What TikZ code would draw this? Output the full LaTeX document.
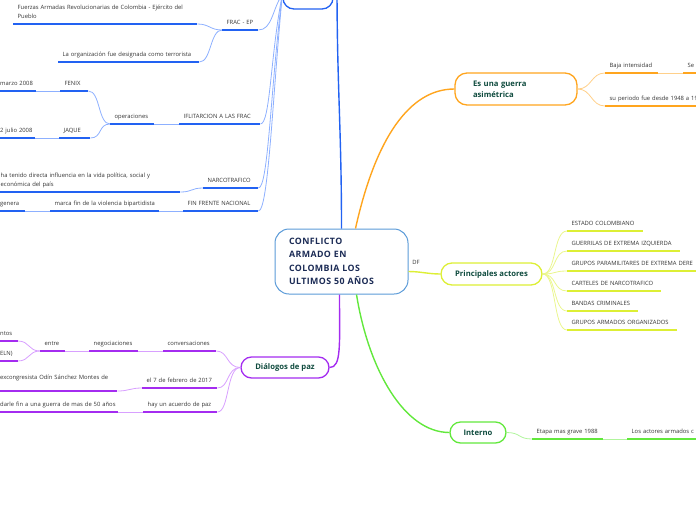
\documentclass[tikz,border=0pt]{standalone}
\usepackage{fontspec}
\setmainfont{Open Sans}
\definecolor{bU}{HTML}{2262F2}
\definecolor{bC}{HTML}{8DB0FF}
\definecolor{pU}{HTML}{A42CF0}
\definecolor{pC}{HTML}{D8A0FF}
\definecolor{lU}{HTML}{DDEF35}
\definecolor{lC}{HTML}{EAF68E}
\definecolor{oU}{HTML}{FFA51E}
\definecolor{oC}{HTML}{FFD08A}
\definecolor{gU}{HTML}{62E83C}
\definecolor{gC}{HTML}{B0F59C}
\definecolor{ttl}{HTML}{0F4B3E}
\definecolor{ctr}{HTML}{1B2B55}
\definecolor{ctrB}{HTML}{5B9BD8}
\definecolor{txt}{HTML}{333333}
\newcommand\dstrut{\rule[-2.3pt]{0pt}{5pt}}
\tikzset{
  topic/.style={anchor=south west, align=left, inner xsep=4.5pt, inner ysep=3.3pt,
    text=txt, font=\fontsize{5.85}{9}\selectfont, execute at end node=\dstrut},
  ulB/.style={draw=bU, line width=1.9pt},
  ulP/.style={draw=pU, line width=1.9pt},
  ulL/.style={draw=lU, line width=1.9pt},
  ulO/.style={draw=oU, line width=1.9pt},
  ulG/.style={draw=gU, line width=1.9pt},
  cB/.style={draw=bC, line width=0.8pt},
  cP/.style={draw=pC, line width=0.8pt},
  cL/.style={draw=lC, line width=0.8pt},
  cO/.style={draw=oC, line width=0.8pt},
  cG/.style={draw=gC, line width=0.8pt},
  branch/.style={draw=#1, line width=1.3pt, fill=white, text=ttl,
    font=\fontsize{7.7}{11}\selectfont\bfseries, inner sep=0pt},
  mainc/.style={draw=#1, line width=1.4pt},
}
\begin{document}
\begin{tikzpicture}[x=1pt,y=-1pt]
\useasboundingbox (0,0) rectangle (696,520);
\clip (0,0) rectangle (696,520);

% central node
\node[draw=ctrB, line width=1pt, fill=white, rounded corners=14pt,
  minimum width=133pt, minimum height=65pt, text width=105pt, inner xsep=14pt,
  align=left, text=ctr, font=\fontsize{8.8}{13.4}\selectfont\bfseries\addfontfeature{LetterSpace=5}]
  (center) at (341.5,261.5) {CONFLICTO\\ARMADO EN\\COLOMBIA LOS\\ULTIMOS 50 AÑOS};

% branch nodes
\node[branch=bU, rounded corners=11pt, minimum width=50pt, minimum height=29pt] (hech) at (308,-5.5) {Hechos};
\node[branch=oU, rounded corners=12pt, minimum width=122pt, minimum height=32pt,
  text width=86pt, inner xsep=18pt, align=left] (asim) at (516,89) {Es una guerra\\asimétrica};
\node[branch=lU, rounded corners=11pt, minimum width=101pt, minimum height=22pt] (princ) at (491.5,274) {Principales actores};
\node[branch=gU, rounded corners=10.5pt, minimum width=56pt, minimum height=21pt] (interno) at (478,432.5) {Interno};
\node[branch=pU, rounded corners=10.5pt, minimum width=88pt, minimum height=21pt] (dial) at (285,367.5) {Diálogos de paz};
\coordinate (htop) at (337,-14);

% blue topics
\node[topic, text width=27pt] (frac) at (222,30) {\mbox{FRAC - EP}};
\node[topic, text width=175pt] (fuerzas) at (13,24) {\mbox{Fuerzas Armadas Revolucionarias de Colombia - Ejército del}\\Pueblo};
\node[topic, text width=132pt] (org) at (58,62) {\mbox{La organización fue designada como terrorista}};
\node[topic, text width=72pt] (ifl) at (179,124) {\mbox{IFLITARCION A LAS FRAC}};
\node[topic, text width=35pt] (oper) at (110,124) {\mbox{operaciones}};
\node[topic, text width=19pt] (fenix) at (60,91) {\mbox{FENIX}};
\node[topic, text width=31.5pt] (marzo) at (-4.5,91) {\mbox{marzo 2008}};
\node[topic, text width=22pt] (jaque) at (59,138) {\mbox{JAQUE}};
\node[topic, text width=30pt] (julio) at (-4.5,138) {\mbox{2 julio 2008}};
\node[topic, text width=46pt] (narc) at (203,188) {\mbox{NARCOTRAFICO}};
\node[topic, text width=175pt] (tenido) at (-4,192) {\mbox{ha tenido directa influencia en la vida política, social y}\\económica del país};
\node[topic, text width=66pt] (fin) at (183,211) {\mbox{FIN FRENTE NACIONAL}};
\node[topic, text width=100pt] (marca) at (50,211) {\mbox{marca fin de la violencia bipartidista}};
\node[topic, text width=20.5pt] (genera) at (-4.5,211) {\mbox{genera}};

% orange topics
\node[topic, text width=44pt] (baja) at (605,73) {\mbox{Baja intensidad}};
\node[topic, text width=11pt] (sec) at (683,73) {\mbox{Se c}};
\node[topic, text width=86pt] (period) at (605,106) {\mbox{su periodo fue desde 1948 a 19}};

% lime topics
\node[topic, text width=67pt] (estado) at (567,231) {\mbox{ESTADO COLOMBIANO}};
\node[topic, text width=104pt] (guerr) at (567,251) {\mbox{GUERRILAS DE EXTREMA IZQUIERDA}};
\node[topic, text width=124pt] (param) at (567,271) {\mbox{GRUPOS PARAMILITARES DE EXTREMA DERE}};
\node[topic, text width=85pt] (cart) at (567,291) {\mbox{CARTELES DE NARCOTRAFICO}};
\node[topic, text width=62pt] (bandas) at (567,311) {\mbox{BANDAS CRIMINALES}};
\node[topic, text width=101pt] (gao) at (567,330) {\mbox{GRUPOS ARMADOS ORGANIZADOS}};
\node[text=txt, font=\fontsize{5.85}{6}\selectfont, inner sep=0pt] (df) at (416,262) {DF};

% green topics
\node[topic, text width=62pt] (etapa) at (532,439) {\mbox{Etapa mas grave 1988}};
\node[topic, text width=66pt] (actores) at (627,439) {\mbox{Los actores armados c}};

% purple topics
\node[topic, text width=44pt] (conv) at (163,351) {\mbox{conversaciones}};
\node[topic, text width=40pt] (neg) at (89,351) {\mbox{negociaciones}};
\node[topic, text width=16pt] (entre) at (40,351) {\mbox{entre}};
\node[topic, text width=13pt] (ntos) at (-4.5,341) {\mbox{ntos}};
\node[topic, text width=13pt] (eln) at (-4.5,361) {\mbox{ELN)}};
\node[topic, text width=66pt] (feb) at (142,388) {\mbox{el 7 de febrero de 2017}};
\node[topic, text width=112.5pt, inner ysep=9.5pt] (exc) at (-4.5,391) {\mbox{excongresista Odín Sánchez Montes de}};
\node[topic, text width=65pt] (hay) at (143,412) {\mbox{hay un acuerdo de paz}};
\node[topic, text width=113.5pt] (darle) at (-4.5,412) {\mbox{darle fin a una guerra de mas de 50 años}};

% light connectors
\draw[cB] (hech.west) .. controls +(-10,14) and +(14,0) .. (frac.south east);
\draw[cB] (hech.west) .. controls +(-12,60) and +(10,0) .. (ifl.south east);
\draw[cB] (hech.west) .. controls +(-12,95) and +(10,0) .. (narc.south east);
\draw[cB] (hech.west) .. controls +(-10,105) and +(10,0) .. (fin.south east);
\draw[cB] (frac.south west) .. controls +(-12,0) and +(12,0) .. (fuerzas.south east);
\draw[cB] (frac.south west) .. controls +(-12,0) and +(12,0) .. (org.south east);
\draw[cB] (ifl.south west) -- (oper.south east);
\draw[cB] (oper.south west) .. controls +(-12,0) and +(12,0) .. (fenix.south east);
\draw[cB] (oper.south west) .. controls +(-12,0) and +(12,0) .. (jaque.south east);
\draw[cB] (fenix.south west) -- (marzo.south east);
\draw[cB] (jaque.south west) -- (julio.south east);
\draw[cB] (narc.south west) .. controls +(-12,0) and +(12,0) .. (tenido.south east);
\draw[cB] (fin.south west) -- (marca.south east);
\draw[cB] (marca.south west) -- (genera.south east);

\draw[cO] (asim.east) .. controls +(14,0) and +(-14,0) .. (baja.south west);
\draw[cO] (asim.east) .. controls +(14,0) and +(-14,0) .. (period.south west);
\draw[cO] (baja.south east) -- (sec.south west);

\foreach \n in {estado,guerr,param,cart,bandas,gao}
  \draw[cL] (princ.east) .. controls +(14,0) and +(-14,0) .. (\n.south west);

\draw[cG] (interno.east) .. controls +(14,0) and +(-14,0) .. (etapa.south west);
\draw[cG] (etapa.south east) -- (actores.south west);

\draw[cP] (dial.west) .. controls +(-14,0) and +(12,0) .. (conv.south east);
\draw[cP] (dial.west) .. controls +(-14,0) and +(12,0) .. (feb.south east);
\draw[cP] (dial.west) .. controls +(-14,0) and +(12,0) .. (hay.south east);
\draw[cP] (conv.south west) -- (neg.south east);
\draw[cP] (neg.south west) -- (entre.south east);
\draw[cP] (entre.south west) .. controls +(-12,0) and +(12,0) .. (ntos.south east);
\draw[cP] (entre.south west) .. controls +(-12,0) and +(12,0) .. (eln.south east);
\draw[cP] (feb.south west) .. controls +(-12,0) and +(12,0) .. (exc.south east);
\draw[cP] (hay.south west) -- (darle.south east);

% underlines
\foreach \n in {frac,fuerzas,org,ifl,oper,fenix,marzo,jaque,julio,narc,tenido,fin,marca,genera}
  \draw[ulB] (\n.south west) -- (\n.south east);
\foreach \n in {baja,period}
  \draw[ulO] (\n.south west) -- (\n.south east);
\draw[ulO] (sec.south west) -- ++(30,0);
\foreach \n in {estado,guerr,cart,bandas,gao}
  \draw[ulL] (\n.south west) -- (\n.south east);
\draw[ulL] (param.south west) -- ++(140,0);
\draw[ulG] (etapa.south west) -- (etapa.south east);
\draw[ulG] (actores.south west) -- ++(80,0);
\foreach \n in {conv,neg,entre,ntos,eln,feb,exc,hay,darle}
  \draw[ulP] (\n.south west) -- (\n.south east);

% main connectors
\draw[mainc=bU] (center.north) .. controls +(0,-100) and +(0,100) .. (htop);
\draw[mainc=oU] ([xshift=14pt]center.north) .. controls +(20,-90) and +(-45,0) .. (asim.west);
\draw[mainc=lU] ([yshift=-10pt]center.east) .. controls +(12,0) and +(-12,0) .. (princ.west);
\draw[mainc=gU] ([xshift=15pt]center.south) .. controls +(12,75) and +(-45,0) .. (interno.west);
\draw[mainc=pU] ([xshift=-2pt]center.south) .. controls +(0,50) and +(12,0) .. (dial.east);
\end{tikzpicture}
\end{document}
